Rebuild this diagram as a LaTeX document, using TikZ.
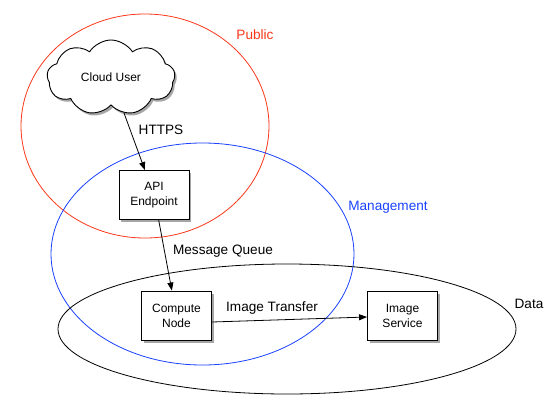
\documentclass[tikz,border=0pt]{standalone}
\usepackage{fontspec}
\setmainfont{Liberation Sans}
\usetikzlibrary{shapes.geometric,shapes.symbols,arrows.meta,shadows}
\definecolor{pubred}{RGB}{250,55,25}
\definecolor{mgmtblue}{RGB}{25,65,255}
\begin{document}
\begin{tikzpicture}[x=1pt,y=-1pt,
  region/.style={ellipse,draw,line width=0.8pt,inner sep=0pt},
  softshadow/.style={drop shadow={shadow xshift=2pt,shadow yshift=-2.5pt,fill=black,opacity=0.35}},
  boxnode/.style={draw=black,fill=white,line width=0.9pt,minimum width=70pt,minimum height=49pt,
    align=center,font=\fontsize{12}{15}\selectfont,inner sep=1pt,softshadow},
  lbl/.style={font=\fontsize{13.6}{16}\selectfont},
  conn/.style={draw=black,line width=0.8pt,-{Triangle[length=8pt,width=6pt]}}]
\useasboundingbox (0,0) rectangle (559,418);
% regions
\node[region,draw=pubred,minimum width=248pt,minimum height=224pt] (public) at (145,126) {};
\node[region,draw=mgmtblue,minimum width=303pt,minimum height=222pt] (mgmt) at (202.5,254) {};
\node[region,draw=black,minimum width=458pt,minimum height=130pt] (data) at (287,329) {};
% region labels
\node[lbl,text=pubred] (publbl) at (255,35) {Public};
\node[lbl,text=mgmtblue] (mgmtlbl) at (388,207) {Management};
\node[lbl] (datalbl) at (529,304) {Data};
% cloud
\node[cloud,draw=black,fill=white,line width=0.9pt,cloud puffs=9,cloud puff arc=115,aspect=1.7,
  minimum width=128pt,minimum height=75pt,inner sep=0pt,font=\fontsize{12}{15}\selectfont,softshadow]
  (cloud) at (111,77.5) {Cloud User};
% boxes
\node[boxnode] (api) at (154,195) {API\\Endpoint};
\node[boxnode] (comp) at (176.5,315.5) {Compute\\Node};
\node[boxnode] (img) at (402.5,315.5) {Image\\Service};
% connectors
\draw[conn] (cloud) -- (api);
\draw[conn] (api) -- (comp);
\draw[conn] ([yshift=-6.5pt]comp.east) -- ([yshift=-1.5pt]img.west);
% connector labels
\node[lbl] (httpslbl) at (161,130) {HTTPS};
\node[lbl] (mqlbl) at (223,251) {Message Queue};
\node[lbl] (itlbl) at (272,308) {Image Transfer};
\end{tikzpicture}
\end{document}
